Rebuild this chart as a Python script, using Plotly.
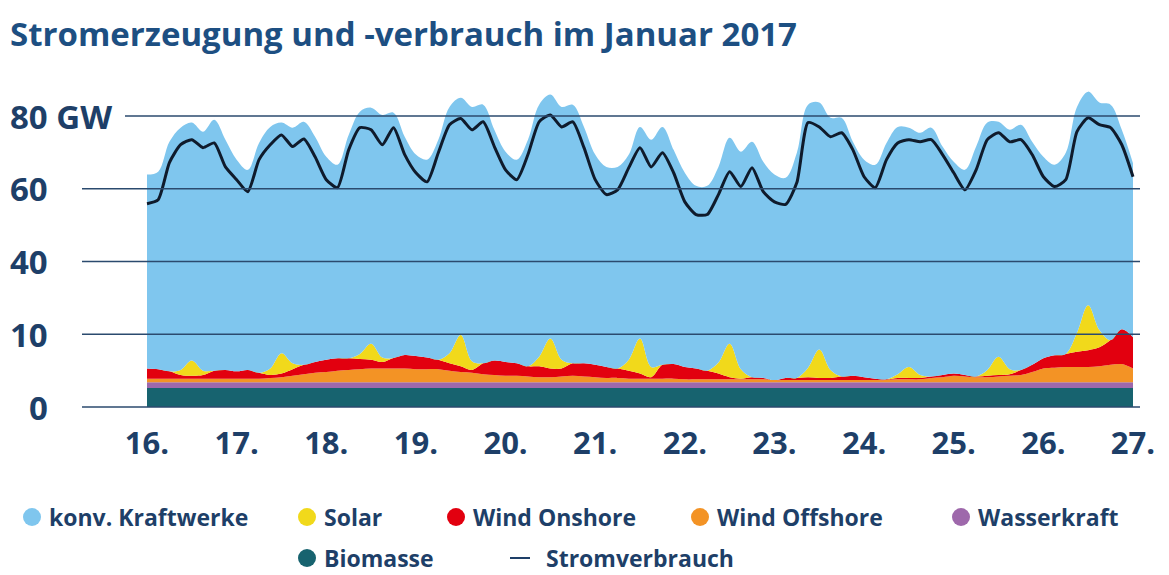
import numpy as np
import pandas as pd
import plotly.graph_objects as go

# ---------------- data (GW), 3-hour steps from 16.01.2017 00:00 to 27.01.2017 00:00 ----------------
titel = "Stromerzeugung und -verbrauch im Januar 2017"
zeit = pd.date_range("2017-01-16 00:00", "2017-01-27 00:00", freq="3h")
tag_werte = pd.date_range("2017-01-16", "2017-01-27", freq="D")
tag_labels = ["16.", "17.", "18.", "19.", "20.", "21.", "22.", "23.", "24.", "25.", "26.", "27."]
y_tick_gw = [0, 10, 40, 60, 80]
y_tick_labels = ["0", "10", "40", "60", "80 GW"]

# columns: 00h 03h 06h 09h 12h 15h 18h 21h
biomasse = [
    2.6, 2.6, 2.6, 2.6, 2.6, 2.6, 2.6, 2.6,   # 16.
    2.6, 2.6, 2.6, 2.6, 2.6, 2.6, 2.6, 2.6,   # 17.
    2.6, 2.6, 2.6, 2.6, 2.6, 2.6, 2.6, 2.6,   # 18.
    2.6, 2.6, 2.6, 2.6, 2.6, 2.6, 2.6, 2.6,   # 19.
    2.6, 2.6, 2.6, 2.6, 2.6, 2.6, 2.6, 2.6,   # 20.
    2.6, 2.6, 2.6, 2.6, 2.6, 2.6, 2.6, 2.6,   # 21.
    2.6, 2.6, 2.6, 2.6, 2.6, 2.6, 2.6, 2.6,   # 22.
    2.6, 2.6, 2.6, 2.6, 2.6, 2.6, 2.6, 2.6,   # 23.
    2.6, 2.6, 2.6, 2.6, 2.6, 2.6, 2.6, 2.6,   # 24.
    2.6, 2.6, 2.6, 2.6, 2.6, 2.6, 2.6, 2.6,   # 25.
    2.6, 2.6, 2.6, 2.6, 2.6, 2.6, 2.6, 2.6,   # 26.
    2.6,                                      # 27.
]
wasserkraft = [
    0.8, 0.8, 0.8, 0.8, 0.8, 0.8, 0.8, 0.8,
    0.8, 0.8, 0.8, 0.8, 0.8, 0.8, 0.8, 0.8,
    0.8, 0.8, 0.8, 0.8, 0.8, 0.8, 0.8, 0.8,
    0.8, 0.8, 0.8, 0.8, 0.8, 0.8, 0.8, 0.8,
    0.8, 0.8, 0.8, 0.8, 0.8, 0.8, 0.8, 0.8,
    0.8, 0.8, 0.8, 0.8, 0.8, 0.8, 0.8, 0.8,
    0.8, 0.8, 0.8, 0.8, 0.8, 0.8, 0.8, 0.8,
    0.8, 0.8, 0.8, 0.8, 0.8, 0.8, 0.8, 0.8,
    0.8, 0.8, 0.8, 0.8, 0.8, 0.8, 0.8, 0.8,
    0.8, 0.8, 0.8, 0.8, 0.8, 0.8, 0.8, 0.8,
    0.8, 0.8, 0.8, 0.8, 0.8, 0.8, 0.8, 0.8,
    0.8,
]
wind_offshore = [
    0.5, 0.5, 0.5, 0.5, 0.5, 0.5, 0.5, 0.5,
    0.5, 0.5, 0.5, 0.6, 0.7, 0.9, 1.1, 1.3,
    1.4, 1.6, 1.7, 1.8, 1.9, 1.9, 1.9, 1.9,
    1.8, 1.8, 1.8, 1.6, 1.4, 1.3, 1.1, 1.0,
    0.9, 0.9, 0.8, 0.7, 0.7, 0.8, 0.9, 0.8,
    0.7, 0.6, 0.6, 0.5, 0.5, 0.5, 0.5, 0.5,
    0.4, 0.4, 0.4, 0.4, 0.4, 0.4, 0.4, 0.4,
    0.3, 0.3, 0.3, 0.3, 0.3, 0.3, 0.3, 0.3,
    0.3, 0.3, 0.3, 0.4, 0.4, 0.4, 0.6, 0.7,
    0.9, 0.8, 0.7, 0.7, 0.8, 0.9, 1.0, 1.4,
    1.9, 2.0, 2.1, 2.1, 2.1, 2.2, 2.4, 2.5,
    1.9,
]
wind_onshore = [
    1.4, 1.3, 1.0, 0.5, 0.4, 0.5, 1.1, 1.2,
    1.0, 1.2, 0.8, 0.4, 0.5, 0.9, 1.3, 1.5,
    1.7, 1.7, 1.6, 1.4, 1.2, 0.9, 1.45, 1.85,
    1.8, 1.6, 1.3, 1.0, 0.8, 0.4, 1.5, 2.0,
    1.9, 1.7, 1.4, 1.5, 1.2, 1.1, 1.7, 1.8,
    1.7, 1.5, 1.3, 1.1, 0.7, 0.2, 1.9, 2.0,
    1.7, 1.5, 1.2, 0.8, 0.3, 0.1, 0.3, 0.2,
    0.0, 0.3, 0.3, 0.4, 0.3, 0.3, 0.5, 0.6,
    0.4, 0.2, 0.1, 0.2, 0.2, 0.2, 0.2, 0.3,
    0.3, 0.2, 0.1, 0.2, 0.2, 0.2, 0.7, 1.0,
    1.4, 1.7, 1.8, 2.1, 2.3, 2.6, 3.4, 4.8,
    4.3,
]
solar = [
    0, 0, 0, 0.7, 2.1, 0.6, 0, 0,
    0, 0, 0, 0.9, 2.8, 0.8, 0, 0,
    0, 0, 0, 0.7, 2.2, 0.6, 0, 0,
    0, 0, 0, 1.4, 4.3, 1.2, 0, 0,
    0, 0, 0, 1.3, 4.1, 1.2, 0, 0,
    0, 0, 0, 1.5, 4.8, 1.4, 0, 0,
    0, 0, 0, 1.5, 4.6, 1.3, 0, 0,
    0, 0, 0, 1.3, 3.9, 1.1, 0, 0,
    0, 0, 0, 0.5, 1.5, 0.4, 0, 0,
    0, 0, 0, 0.8, 2.5, 0.7, 0, 0,
    0, 0, 0, 2.6, 6.2, 2.4, 0, 0,
    0,
]
# total generation = top edge of "konv. Kraftwerke"
erzeugung_gesamt = [
    63.9, 64.7, 72.9, 76.8, 78.2, 75.7, 79.0, 73.5,
    68.0, 65.2, 72.6, 77.0, 78.2, 76.8, 78.4, 74.3,
    68.8, 66.6, 74.8, 81.2, 82.3, 80.3, 80.9, 74.3,
    69.4, 68.0, 73.5, 82.5, 85.0, 82.5, 83.1, 76.2,
    70.2, 68.0, 73.5, 83.1, 85.9, 82.5, 83.1, 77.0,
    69.4, 66.0, 66.0, 69.4, 77.0, 73.5, 77.0, 70.7,
    64.4, 60.8, 60.8, 66.0, 74.0, 70.2, 72.9, 67.4,
    63.9, 63.0, 69.9, 83.1, 83.7, 79.5, 79.5, 72.9,
    68.0, 66.6, 72.6, 77.0, 76.8, 75.4, 76.8, 71.6,
    67.4, 65.2, 71.6, 78.2, 78.4, 76.2, 77.6, 72.9,
    68.8, 66.6, 69.9, 82.5, 86.7, 83.7, 83.1, 76.2,
    67.0,
]
stromverbrauch = [
    55.9, 57.0, 67.2, 72.1, 73.5, 71.3, 72.6, 66.0,
    62.5, 59.2, 68.0, 72.1, 74.8, 71.6, 73.7, 68.8,
    62.5, 60.3, 70.7, 76.8, 76.2, 72.1, 76.8, 69.4,
    64.4, 61.9, 69.9, 77.6, 79.3, 76.2, 78.4, 71.6,
    65.2, 62.5, 69.4, 78.4, 80.3, 77.0, 78.4, 71.3,
    62.5, 58.4, 59.7, 65.8, 71.3, 66.0, 69.9, 64.4,
    56.4, 52.9, 52.9, 58.4, 64.7, 60.6, 65.8, 59.2,
    56.4, 55.7, 61.7, 78.2, 77.0, 74.3, 75.4, 70.7,
    63.3, 60.3, 68.0, 72.6, 73.5, 72.9, 73.5, 69.4,
    64.4, 59.7, 65.2, 73.5, 75.4, 72.9, 73.5, 69.4,
    63.3, 60.6, 62.5, 75.7, 79.5, 77.6, 76.8, 72.1,
    63.3,
]

# ---------------- styles ----------------
FONT = "Open Sans"
C_TITLE = "#1d4f82"
C_TEXT = "#1e3f68"
C_GRID = "#2b4a6e"
colors = {
    "konv": "#7fc6ee",
    "solar": "#f1d91b",
    "onshore": "#e2000f",
    "offshore": "#f39325",
    "wasser": "#9e68ab",
    "bio": "#17636f",
    "verbrauch": "#0f1b2c",
}

# The value axis is broken: equal steps for 0, 10, 40, 60, 80 GW.
# Upper band (generation total, consumption) follows the 40/60/80 segments,
# the renewable stack lives on the linear 0-10 GW segment (continued upward).
def achse_oben(v):
    v = np.asarray(v, dtype=float)
    out = np.interp(v, y_tick_gw, list(range(len(y_tick_gw))))
    hi = v > y_tick_gw[-1]
    out[hi] = (len(y_tick_gw) - 1) + (v[hi] - y_tick_gw[-1]) / (y_tick_gw[-1] - y_tick_gw[-2])
    return out

def achse_unten(v):
    return np.asarray(v, dtype=float) / y_tick_gw[1]

# page geometry (the browser page adds an 8 px body margin)
OFF = 8
W, H = 1169, 575
PL, PR, PT, PB = 82, 1140, 80, 410          # plot area in screen pixels
ML, MR, MT = PL - OFF, W - (PR - OFF), PT - OFF
PW, PH = PR - PL, PB - PT
MB = H - MT - PH

def px_x(px):
    return (px - PL) / PW

def px_y(py):
    return (PB - py) / PH

cum1 = np.array(biomasse)
cum2 = cum1 + np.array(wasserkraft)
cum3 = cum2 + np.array(wind_offshore)
cum4 = cum3 + np.array(wind_onshore)
cum5 = cum4 + np.array(solar)

fig = go.Figure()
SH = dict(shape="spline", smoothing=1.0, width=0)
stack = [
    ("Biomasse", achse_unten(cum1), colors["bio"], "tozeroy"),
    ("Wasserkraft", achse_unten(cum2), colors["wasser"], "tonexty"),
    ("Wind Offshore", achse_unten(cum3), colors["offshore"], "tonexty"),
    ("Wind Onshore", achse_unten(cum4), colors["onshore"], "tonexty"),
    ("Solar", achse_unten(cum5), colors["solar"], "tonexty"),
    ("konv. Kraftwerke", achse_oben(erzeugung_gesamt), colors["konv"], "tonexty"),
]
for name, vals, col, fill in stack:
    fig.add_trace(go.Scatter(
        x=zeit, y=vals, name=name, mode="lines",
        line=dict(color=col, **SH), fill=fill, fillcolor=col,
        showlegend=False, hoverinfo="skip",
    ))
fig.add_trace(go.Scatter(
    x=zeit, y=achse_oben(stromverbrauch), name="Stromverbrauch", mode="lines",
    line=dict(color=colors["verbrauch"], width=3, shape="spline", smoothing=0.6),
    showlegend=False, hoverinfo="skip",
))

shapes = []
annotations = []
YFONT = dict(family=FONT, size=33, color=C_TEXT, weight=700)
for i, lab in enumerate(y_tick_labels):
    is_unit = lab.endswith("GW")
    x0 = px_x(125) if is_unit else 0
    shapes.append(dict(type="line", xref="paper", yref="y", x0=x0, x1=1, y0=i, y1=i,
                       line=dict(color=C_GRID, width=1.6), layer="above"))
    if is_unit:
        annotations.append(dict(xref="paper", yref="y", x=px_x(8), y=i, text=lab,
                                showarrow=False, xanchor="left", yanchor="middle", font=YFONT))
    else:
        annotations.append(dict(xref="paper", yref="y", x=px_x(50), y=i, text=lab,
                                showarrow=False, xanchor="right", yanchor="middle", font=YFONT))

# legend (built manually to keep the original two-row arrangement)
legend_items = [
    ("konv. Kraftwerke", colors["konv"], 32, 517, "dot"),
    ("Solar", colors["solar"], 307, 517, "dot"),
    ("Wind Onshore", colors["onshore"], 456, 517, "dot"),
    ("Wind Offshore", colors["offshore"], 700, 517, "dot"),
    ("Wasserkraft", colors["wasser"], 961, 517, "dot"),
    ("Biomasse", colors["bio"], 307, 558, "dot"),
    ("Stromverbrauch", C_TEXT, 520, 558, "dash"),
]
R = 9
for name, col, cx, cy, kind in legend_items:
    if kind == "dot":
        shapes.append(dict(type="circle", xref="paper", yref="paper",
                           x0=px_x(cx - R), x1=px_x(cx + R), y0=px_y(cy + R), y1=px_y(cy - R),
                           fillcolor=col, line=dict(width=0)))
        tx = cx + 15
    else:
        shapes.append(dict(type="line", xref="paper", yref="paper",
                           x0=px_x(cx - 10), x1=px_x(cx + 10), y0=px_y(cy), y1=px_y(cy),
                           line=dict(color=col, width=2)))
        tx = cx + 24
    annotations.append(dict(xref="paper", yref="paper", x=px_x(tx), y=px_y(cy), text=name,
                            showarrow=False, xanchor="left", yanchor="middle",
                            font=dict(family=FONT, size=23, color=C_TEXT, weight=700)))

day = pd.Timedelta(days=1)
px_per_day = (1133 - 147) / 11
x_start = tag_werte[0] - day * (147 - PL) / px_per_day
x_end = tag_werte[-1] + day * (PR - 1133) / px_per_day

fig.update_layout(
    width=W, height=H,
    margin=dict(l=ML, r=MR, t=MT, b=MB),
    paper_bgcolor="white", plot_bgcolor="white",
    title=dict(text=titel, x=(10 - OFF) / W, xanchor="left", xref="container",
               y=1 - (34 - OFF) / H, yanchor="middle", yref="container",
               font=dict(family=FONT, size=33, color=C_TITLE, weight=700)),
    xaxis=dict(type="date", range=[x_start, x_end], tickvals=list(tag_werte), ticktext=tag_labels,
               showgrid=False, zeroline=False, showline=False,
               ticks="outside", ticklen=6, tickcolor="rgba(0,0,0,0)",
               tickfont=dict(family=FONT, size=31, color=C_TEXT, weight=700)),
    yaxis=dict(range=[-(PB - 407) / 72.75, 4 + (116 - PT) / 72.75],
               showticklabels=False, showgrid=False, zeroline=False, showline=False),
    shapes=shapes, annotations=annotations, showlegend=False,
)

fig.write_html("out.html")
